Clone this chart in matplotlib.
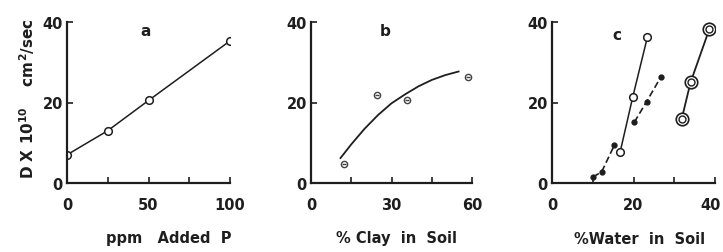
import matplotlib
matplotlib.use("Agg")
import matplotlib.pyplot as plt
import matplotlib.transforms as mtransforms

plt.rcParams['font.family'] = ['DejaVu Sans']
plt.rcParams['font.weight'] = 'bold'
plt.rcParams['axes.labelweight'] = 'bold'
plt.rcParams['mathtext.default'] = 'bf'

# Panel a
a_x = [0, 25, 50, 100]
a_y = [7, 13, 20.5, 35.3]

# Panel b
b_x = [12.3, 24.5, 35.7, 58.6]
b_y = [4.7, 21.9, 20.5, 26.3]
b_curve_x = [11, 15, 20, 25, 30, 35, 40, 45, 50, 55]
b_curve_y = [6.2, 9.6, 13.5, 16.9, 19.8, 22.0, 24.0, 25.6, 26.8, 27.7]

# Panel c
c1_x = [16.7, 19.8, 23.4]
c1_y = [7.6, 21.3, 36.2]
c2a_x = [10.1, 12.2, 15.3]
c2a_y = [1.5, 2.8, 9.4]
c2b_x = [20.2, 23.2, 26.7]
c2b_y = [15.1, 20.2, 26.3]
c3_x = [31.8, 34.0, 38.6]
c3_y = [15.8, 25.0, 38.2]

fig = plt.figure(figsize=(7.23, 2.53), dpi=100)
W, H = 723, 253
INK = '#1e1e1e'
FS = 10.5

def make_ax(left, right, xmax, xticks, xlabel_ticks, xlabel, xlab_x):
    ax = fig.add_axes([left / W, 1 - 184 / H, (right - left) / W, (184 - 23) / H])
    ax.set_xlim(0, xmax)
    ax.set_ylim(0, 40)
    for s in ['top', 'right']:
        ax.spines[s].set_visible(False)
    for s in ['left', 'bottom']:
        ax.spines[s].set_linewidth(1.6)
        ax.spines[s].set_color(INK)
    ax.set_xticks(xticks)
    ax.set_xticklabels([str(t) if t in xlabel_ticks else '' for t in xticks])
    ax.set_yticks([0, 20, 40])
    ax.tick_params(axis='x', direction='in', length=4, width=1.2, pad=10,
                   labelsize=FS, colors=INK)
    ax.tick_params(axis='y', direction='in', length=4, width=1.2, pad=3,
                   labelsize=FS, colors=INK)
    ax.set_xlabel(xlabel, fontsize=FS, color=INK, fontweight='bold')
    ax.xaxis.label.set_va('center')
    ax.xaxis.set_label_coords(xlab_x, (184 - 239) / 161)
    return ax

ax1 = make_ax(67, 230, 100, [0, 25, 50, 75, 100], [0, 50, 100], 'ppm   Added  P', 0.626)
ax1.plot(a_x, a_y, '-', color=INK, lw=1.1, marker='o', ms=5.5,
         mfc='white', mec=INK, mew=1.1)
ax1.text(48, 37.8, 'a', ha='center', va='center', fontsize=11, color=INK)
ax1.set_ylabel('D X 10$^{10}$    cm$^{2}$/sec', fontsize=11, color=INK, fontweight='bold')
ax1.yaxis.label.set_va('center')
ax1.yaxis.set_label_coords((27 - 67) / 163, (184 - 99) / 161)

ax2 = make_ax(311, 472, 60, [0, 15, 30, 45, 60], [0, 30, 60], '% Clay  in  Soil', 0.534)
ax2.plot(b_curve_x, b_curve_y, '-', color=INK, lw=1.3)
ax2.plot(b_x, b_y, linestyle='none', marker='o', ms=4.5, mfc='white', mec='#444444', mew=1.0)
ax2.plot(b_x, b_y, linestyle='none', marker='_', ms=3, mec='#444444', mew=1.0)
ax2.text(27.6, 37.8, 'b', ha='center', va='center', fontsize=11, color=INK)

ax3 = make_ax(552, 715, 40, [0, 10, 20, 30, 40], [0, 20, 40], '%Water  in  Soil', 0.537)
ax3.plot(c1_x, c1_y, '-', color=INK, lw=1.1, marker='o', ms=5.5,
         mfc='white', mec=INK, mew=1.1)
for xs, ys in [(c2a_x, c2a_y), (c2b_x, c2b_y)]:
    ax3.plot(xs, ys, '--', color=INK, lw=1.2, dashes=(4, 2), marker='o', ms=3.5,
             mfc=INK, mec=INK)
ax3.plot(c3_x, c3_y, '-', color=INK, lw=1.3, marker='o', ms=9,
         mfc='white', mec=INK, mew=1.2)
ax3.plot(c3_x, c3_y, linestyle='none', marker='o', ms=5,
         mfc='white', mec=INK, mew=1.0)
ax3.text(15.9, 37.0, 'c', ha='center', va='center', fontsize=11, color=INK)

last = ax3.get_xticklabels()[-1]
last.set_transform(last.get_transform() +
                   mtransforms.ScaledTranslation(-4 / 100, 0, fig.dpi_scale_trans))

fig.savefig('out.png', dpi=100, facecolor='white')
